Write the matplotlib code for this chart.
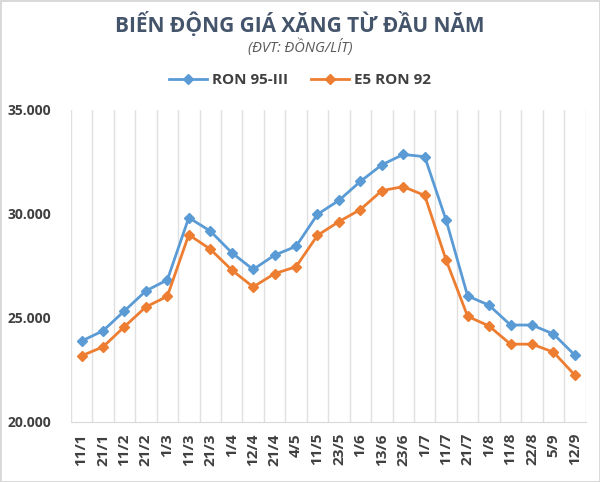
import matplotlib.pyplot as plt
import numpy as np

dates = ["11/1", "21/1", "11/2", "21/2", "1/3", "11/3", "21/3", "1/4", "12/4", "21/4",
         "4/5", "11/5", "23/5", "1/6", "13/6", "23/6", "1/7", "11/7", "21/7", "1/8",
         "11/8", "22/8", "5/9", "12/9"]
ron95 = [23890, 24380, 25340, 26300, 26830, 29820, 29180, 28140, 27330, 28020,
         28440, 29980, 30650, 31560, 32360, 32860, 32750, 29690, 26060, 25610,
         24660, 24660, 24230, 23210]
e5ron92 = [23180, 23610, 24580, 25530, 26040, 29000, 28310, 27310, 26490, 27130,
           27460, 28970, 29630, 30210, 31120, 31310, 30890, 27770, 25080, 24610,
           23740, 23740, 23360, 22250]
yticks = [20000, 25000, 30000, 35000]

plt.rcParams['font.family'] = ['Open Sans', 'DejaVu Sans']

fig = plt.figure(figsize=(6, 4.82), dpi=100)
fig.patch.set_edgecolor('#d9d9d9')
fig.patch.set_linewidth(2)
ax = fig.add_axes([0.118, 0.1245, 0.858, 0.6475])

x = np.arange(len(dates))
ax.plot(x, ron95, color='#5b9bd5', lw=2, marker='D', ms=5.5, label='RON 95-III')
ax.plot(x, e5ron92, color='#ed7d31', lw=2, marker='D', ms=5.5, label='E5 RON 92')

ax.set_xlim(-0.5, len(dates) - 0.5)
ax.set_ylim(20000, 35000)
ax.set_yticks(yticks)
ax.set_yticklabels([f"{v:,}".replace(",", ".") for v in yticks])
ax.set_xticks(x)
ax.set_xticklabels(dates, rotation=90)

# vertical gridlines between categories
for b in np.arange(-0.5, len(dates), 1.0):
    ax.axvline(b, color='#e0e0e0', lw=1, zorder=0)

for s in ['top', 'right', 'left']:
    ax.spines[s].set_visible(False)
ax.spines['bottom'].set_color('#d9d9d9')
ax.tick_params(axis='both', length=0, colors='#404040')
ax.tick_params(axis='y', pad=14, labelsize=10)
ax.tick_params(axis='x', pad=8, labelsize=11)
for lab in ax.get_xticklabels() + ax.get_yticklabels():
    lab.set_fontweight('bold')

fig.text(0.5, 0.95, "BIẾN ĐỘNG GIÁ XĂNG TỪ ĐẦU NĂM", ha='center', va='center',
         fontsize=15, fontweight='bold', color='#44546a')
fig.text(0.5, 0.902, "(ĐVT: ĐỒNG/LÍT)", ha='center', va='center',
         fontsize=10.5, style='italic', color='#595959')
fig.legend(loc='center', bbox_to_anchor=(0.5, 0.834), ncol=2, frameon=False,
           prop={'size': 11, 'weight': 'bold'}, labelcolor='#404040',
           handlelength=2.5, columnspacing=1.5, handletextpad=0.3)

fig.savefig('out.png', dpi=100)
